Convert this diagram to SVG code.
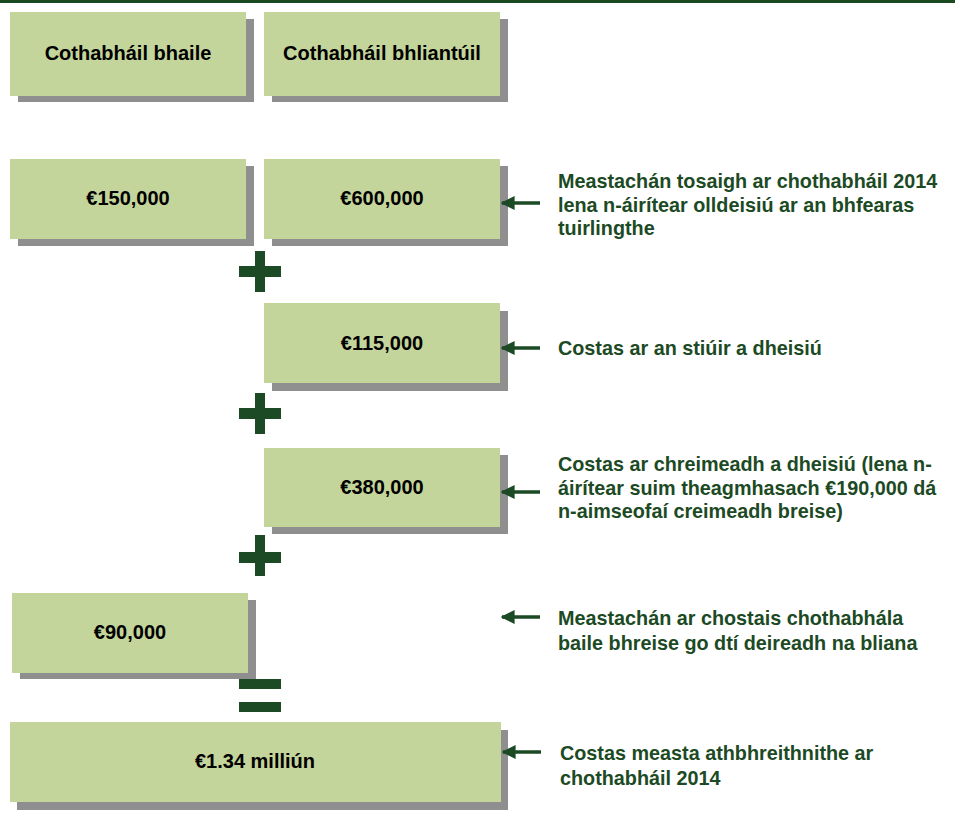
<svg xmlns="http://www.w3.org/2000/svg" width="960" height="814" viewBox="0 0 960 814">
  <defs>
    <style>
      .box { fill: #c4d59b; }
      .shadow { fill: #8f8f8f; }
      .bt { font-family: "Liberation Sans", Arial, sans-serif; font-weight: bold; font-size: 20px; fill: #000; text-anchor: middle; }
      .lbl { font-family: "Liberation Sans", Arial, sans-serif; font-weight: bold; font-size: 19.8px; fill: #1c4a24; }
      .op { fill: #1b4a24; }
      .conn { stroke: #1b4a24; stroke-width: 3.5; fill: none; marker-end: url(#ah); }
    </style>
    <marker id="ah" viewBox="0 0 10 10" refX="9" refY="5" markerUnits="userSpaceOnUse" markerWidth="14" markerHeight="14" orient="auto">
      <path d="M0,0 L10,5 L0,10 z" fill="#1b4a24"/>
    </marker>
  </defs>
  <rect x="0" y="0" width="955" height="3" fill="#1a4a22"/>

  <g id="hdr-bhaile">
    <rect class="shadow" x="18" y="19" width="236" height="83"/>
    <rect class="box" x="10" y="12" width="236" height="84"/>
    <text class="bt" x="128" y="60">Cothabháil bhaile</text>
  </g>
  <g id="hdr-bhliantuil">
    <rect class="shadow" x="272" y="19" width="236" height="83"/>
    <rect class="box" x="264" y="12" width="236" height="84"/>
    <text class="bt" x="382" y="60">Cothabháil bhliantúil</text>
  </g>

  <g id="n150">
    <rect class="shadow" x="18" y="166" width="236" height="80"/>
    <rect class="box" x="10" y="159" width="236" height="80"/>
    <text class="bt" x="128" y="205">€150,000</text>
  </g>
  <g id="n600">
    <rect class="shadow" x="272" y="166" width="236" height="80"/>
    <rect class="box" x="264" y="159" width="236" height="80"/>
    <text class="bt" x="382" y="205">€600,000</text>
  </g>
  <g id="plus1" class="op">
    <rect x="239" y="266" width="42" height="11"/>
    <rect x="255" y="251" width="10" height="41"/>
  </g>
  <g id="n115">
    <rect class="shadow" x="272" y="311" width="236" height="80"/>
    <rect class="box" x="264" y="303" width="236" height="80"/>
    <text class="bt" x="382" y="350">€115,000</text>
  </g>
  <g id="plus2" class="op">
    <rect x="239" y="408" width="42" height="11"/>
    <rect x="255" y="393" width="10" height="41"/>
  </g>
  <g id="n380">
    <rect class="shadow" x="272" y="455" width="236" height="79"/>
    <rect class="box" x="264" y="448" width="236" height="79"/>
    <text class="bt" x="382" y="494">€380,000</text>
  </g>
  <g id="plus3" class="op">
    <rect x="239" y="552" width="42" height="11"/>
    <rect x="255" y="535" width="10" height="41"/>
  </g>
  <g id="n90">
    <rect class="shadow" x="20" y="600" width="236" height="79"/>
    <rect class="box" x="12" y="593" width="236" height="80"/>
    <text class="bt" x="130" y="639">€90,000</text>
  </g>
  <g id="equals" class="op">
    <rect x="239" y="679" width="42" height="10"/>
    <rect x="239" y="702" width="42" height="10"/>
  </g>
  <g id="ntotal">
    <rect class="shadow" x="17" y="730" width="491" height="80"/>
    <rect class="box" x="10" y="722" width="491" height="80"/>
    <text class="bt" x="255" y="768">€1.34 milliún</text>
  </g>

  <g id="lbl-1">
    <text class="lbl" x="558" y="188">Meastachán tosaigh ar chothabháil 2014</text>
    <text class="lbl" x="558" y="212">lena n-áirítear olldeisiú ar an bhfearas</text>
    <text class="lbl" x="558" y="235">tuirlingthe</text>
  </g>
  <g id="lbl-2">
    <text class="lbl" x="558" y="355">Costas ar an stiúir a dheisiú</text>
  </g>
  <g id="lbl-3">
    <text class="lbl" x="558" y="471">Costas ar chreimeadh a dheisiú (lena n-</text>
    <text class="lbl" x="558" y="495">áirítear suim theagmhasach €190,000 dá</text>
    <text class="lbl" x="558" y="518">n-aimseofaí creimeadh breise)</text>
  </g>
  <g id="lbl-4">
    <text class="lbl" x="558" y="625">Meastachán ar chostais chothabhála</text>
    <text class="lbl" x="558" y="650">baile bhreise go dtí deireadh na bliana</text>
  </g>
  <g id="lbl-5">
    <text class="lbl" x="560" y="760">Costas measta athbhreithnithe ar</text>
    <text class="lbl" x="560" y="785">chothabháil 2014</text>
  </g>

  <g id="connectors">
    <line class="conn" x1="540" y1="203" x2="502" y2="203"/>
    <line class="conn" x1="540" y1="348" x2="502" y2="348"/>
    <line class="conn" x1="540" y1="492" x2="502" y2="492"/>
    <line class="conn" x1="540" y1="617" x2="502" y2="617"/>
    <line class="conn" x1="541" y1="752" x2="503" y2="752"/>
  </g>
</svg>
